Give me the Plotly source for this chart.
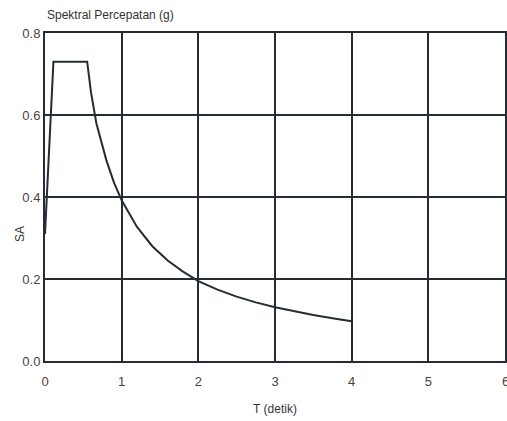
import plotly.graph_objects as go

T = [0.0, 0.11, 0.55, 0.6, 0.67, 0.8, 0.9, 1.0, 1.2, 1.4, 1.6, 1.8, 2.0, 2.25, 2.5,
     2.75, 3.0, 3.25, 3.5, 3.75, 4.0]
SA = [0.31, 0.73, 0.73, 0.655, 0.58, 0.49, 0.435, 0.392, 0.327, 0.28, 0.245, 0.218,
      0.195, 0.174, 0.157, 0.143, 0.131, 0.121, 0.112, 0.104, 0.097]

x_ticks = [0, 1, 2, 3, 4, 5]
last_x_tick = 6
y_ticks = [0.0, 0.2, 0.4, 0.6, 0.8]
y_tick_labels = ["0.0", "0.2", "0.4", "0.6", "0.8"]

INK = "#252c35"
FONT = "Liberation Sans Narrow, Liberation Sans, Arial, sans-serif"

fig = go.Figure()
fig.add_trace(go.Scatter(x=T, y=SA, mode="lines",
                         line=dict(color=INK, width=2), hoverinfo="skip"))

fig.update_layout(
    width=507, height=421,
    margin=dict(l=45, r=2, t=33, b=60),
    paper_bgcolor="white", plot_bgcolor="white",
    showlegend=False,
    font=dict(family=FONT, size=12, color="#333333"),
)
fig.update_xaxes(range=[0, 6], tickvals=x_ticks + [last_x_tick], showgrid=True,
                 gridcolor=INK, gridwidth=2, showline=True, linecolor=INK, linewidth=2,
                 mirror=True, zeroline=False, ticks="", ticklen=0, automargin=False,
                 ticklabelstandoff=7,
                 tickfont=dict(size=13, color="#444444"),
                 title=dict(text="T (detik)", font=dict(size=12, color="#333333"),
                            standoff=17))
fig.update_yaxes(range=[0, 0.8], tickvals=y_ticks, ticktext=y_tick_labels,
                 showgrid=True, gridcolor=INK, gridwidth=2, showline=True,
                 linecolor=INK, linewidth=2, mirror=True, zeroline=False,
                 ticks="", ticklen=0, automargin=False,
                 tickfont=dict(size=13, color="#444444"))
fig.add_annotation(text=str(last_x_tick), xref="x", yref="paper", x=last_x_tick, y=0,
                   xanchor="center", yanchor="middle", yshift=-20,
                   showarrow=False, font=dict(size=13, color="#444444"))
fig.add_annotation(text="Spektral Percepatan (g)", xref="paper", yref="paper",
                   x=0, y=1, xanchor="left", yanchor="bottom", yshift=9,
                   showarrow=False, font=dict(size=12, color="#333333"))
fig.add_annotation(text="SA", xref="paper", yref="y", x=0, y=0.31,
                   xanchor="center", yanchor="middle", xshift=-25, textangle=-90,
                   showarrow=False, font=dict(size=12, color="#333333"))

fig.write_html("out.html", config={"displayModeBar": False},
               post_script="document.body.style.margin='0';document.body.style.overflow='hidden';")
